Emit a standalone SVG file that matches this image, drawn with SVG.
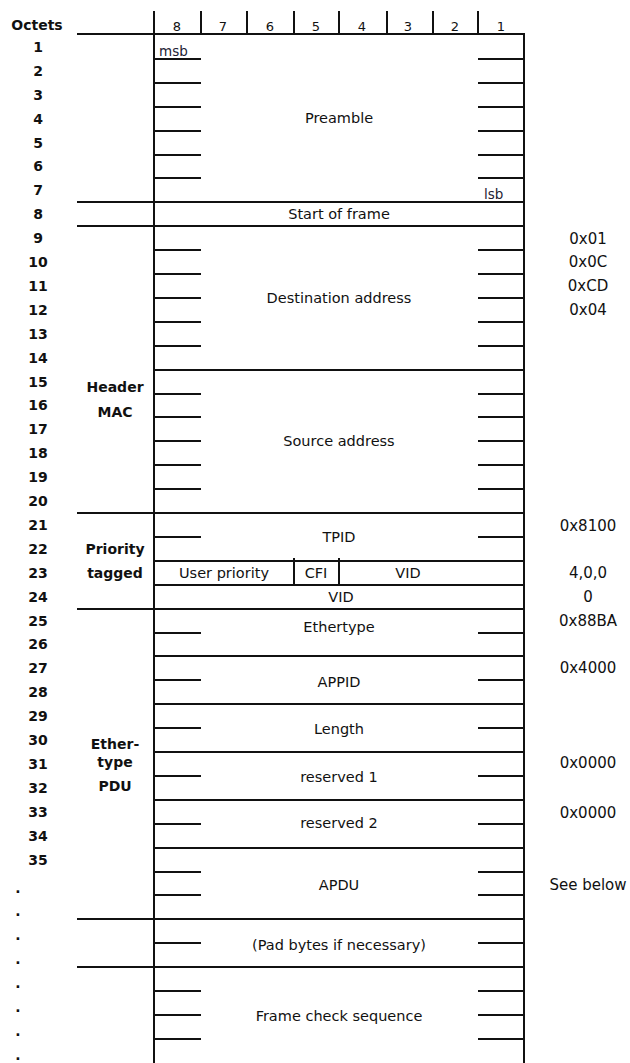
<svg xmlns="http://www.w3.org/2000/svg" width="630" height="1063" viewBox="0 0 630 1063">
<style>
.ln{stroke:#111;stroke-width:2;fill:none}
.tk{stroke:#111;stroke-width:2;fill:none}
.oc{font-family:"DejaVu Sans",Verdana,sans-serif;font-size:14px;font-weight:bold;fill:#111;text-anchor:middle}
.col{font-family:"DejaVu Sans",Verdana,sans-serif;font-size:13px;fill:#111;text-anchor:middle}
.fl{font-family:"DejaVu Sans",Verdana,sans-serif;font-size:14.5px;fill:#111;text-anchor:middle}
.sm{font-family:"DejaVu Sans",Verdana,sans-serif;font-size:13.5px;fill:#223}
.val{font-family:"DejaVu Sans",Verdana,sans-serif;font-size:15px;fill:#111;text-anchor:middle}
</style>
<rect width="630" height="1063" fill="#fff"/>
<g id="connectors">
<path class="ln" d="M154 11V1063M524 33V1063M201 11V34M247 11V34M294 11V34M339 11V34M387 11V34M433 11V34M478 11V34"/>
<path class="ln" d="M77 34H524M77 202H524M77 226H524M77 513H524M77 609H524M77 919H524M77 967H524"/>
<path class="ln" d="M154 370H524M154 561H524M154 585H524M154 656H524M154 704H524M154 752H524M154 800H524M154 848H524M294 558V585M339 558V585"/>
<path class="tk" d="M154 59H201M154 83H201M154 107H201M154 131H201M154 155H201M154 178H201M154 250H201M154 274H201M154 298H201M154 322H201M154 346H201M154 394H201M154 417H201M154 441H201M154 465H201M154 489H201M154 537H201M154 633H201M154 680H201M154 728H201M154 776H201M154 824H201M154 872H201M154 895H201M154 943H201M154 991H201M154 1015H201M154 1039H201"/>
<path class="tk" d="M478 59H524M478 83H524M478 107H524M478 131H524M478 155H524M478 178H524M478 250H524M478 274H524M478 298H524M478 322H524M478 346H524M478 394H524M478 417H524M478 441H524M478 465H524M478 489H524M478 537H524M478 633H524M478 680H524M478 728H524M478 776H524M478 824H524M478 872H524M478 895H524M478 943H524M478 991H524M478 1015H524M478 1039H524"/>
</g>
<g id="bit-columns">
<text class="col" x="177" y="31">8</text><text class="col" x="223" y="31">7</text><text class="col" x="270" y="31">6</text><text class="col" x="316" y="31">5</text><text class="col" x="362" y="31">4</text><text class="col" x="408" y="31">3</text><text class="col" x="455" y="31">2</text><text class="col" x="501" y="31">1</text>
</g>
<g id="octets">
<text class="oc" x="37" y="30">Octets</text>
<text class="oc" x="38" y="52">1</text><text class="oc" x="38" y="76">2</text><text class="oc" x="38" y="100">3</text><text class="oc" x="38" y="124">4</text><text class="oc" x="38" y="148">5</text><text class="oc" x="38" y="171">6</text><text class="oc" x="38" y="195">7</text><text class="oc" x="38" y="219">8</text><text class="oc" x="38" y="243">9</text><text class="oc" x="38" y="267">10</text><text class="oc" x="38" y="291">11</text><text class="oc" x="38" y="315">12</text><text class="oc" x="38" y="339">13</text><text class="oc" x="38" y="363">14</text><text class="oc" x="38" y="387">15</text><text class="oc" x="38" y="410">16</text><text class="oc" x="38" y="434">17</text><text class="oc" x="38" y="458">18</text><text class="oc" x="38" y="482">19</text><text class="oc" x="38" y="506">20</text><text class="oc" x="38" y="530">21</text><text class="oc" x="38" y="554">22</text><text class="oc" x="38" y="578">23</text><text class="oc" x="38" y="602">24</text><text class="oc" x="38" y="626">25</text><text class="oc" x="38" y="649">26</text><text class="oc" x="38" y="673">27</text><text class="oc" x="38" y="697">28</text><text class="oc" x="38" y="721">29</text><text class="oc" x="38" y="745">30</text><text class="oc" x="38" y="769">31</text><text class="oc" x="38" y="793">32</text><text class="oc" x="38" y="817">33</text><text class="oc" x="38" y="841">34</text><text class="oc" x="38" y="865">35</text>
<text class="oc" x="18" y="893">.</text><text class="oc" x="18" y="916">.</text><text class="oc" x="18" y="940">.</text><text class="oc" x="18" y="964">.</text><text class="oc" x="18" y="988">.</text><text class="oc" x="18" y="1012">.</text><text class="oc" x="18" y="1036">.</text><text class="oc" x="18" y="1060">.</text>
</g>
<g id="groups">
<text class="oc" x="115" y="392">Header</text><text class="oc" x="115" y="417">MAC</text>
<text class="oc" x="115" y="554">Priority</text><text class="oc" x="115" y="578">tagged</text>
<text class="oc" x="115" y="749">Ether-</text><text class="oc" x="115" y="767">type</text><text class="oc" x="115" y="791">PDU</text>
</g>
<g id="preamble"><text class="sm" x="159" y="56">msb</text><text class="fl" x="339" y="123">Preamble</text><text class="sm" x="484" y="199">lsb</text></g>
<g id="sof"><text class="fl" x="339" y="219">Start of frame</text></g>
<g id="dest"><text class="fl" x="339" y="303">Destination address</text></g>
<g id="src"><text class="fl" x="339" y="446">Source address</text></g>
<g id="tpid"><text class="fl" x="339" y="542">TPID</text></g>
<g id="tci"><text class="fl" x="224" y="578">User priority</text><text class="fl" x="316" y="578">CFI</text><text class="fl" x="408" y="578">VID</text><text class="fl" x="341" y="602">VID</text></g>
<g id="ethertype"><text class="fl" x="339" y="632">Ethertype</text></g>
<g id="appid"><text class="fl" x="339" y="687">APPID</text></g>
<g id="length"><text class="fl" x="339" y="734">Length</text></g>
<g id="res1"><text class="fl" x="339" y="782">reserved 1</text></g>
<g id="res2"><text class="fl" x="339" y="828">reserved 2</text></g>
<g id="apdu"><text class="fl" x="339" y="890">APDU</text></g>
<g id="pad"><text class="fl" x="339" y="950">(Pad bytes if necessary)</text></g>
<g id="fcs"><text class="fl" x="339" y="1021">Frame check sequence</text></g>
<g id="values">
<text class="val" x="588" y="244">0x01</text><text class="val" x="588" y="267">0x0C</text><text class="val" x="588" y="291">0xCD</text><text class="val" x="588" y="315">0x04</text>
<text class="val" x="588" y="531">0x8100</text><text class="val" x="588" y="578">4,0,0</text><text class="val" x="588" y="602">0</text><text class="val" x="588" y="626">0x88BA</text><text class="val" x="588" y="673">0x4000</text><text class="val" x="588" y="768">0x0000</text><text class="val" x="588" y="818">0x0000</text><text class="val" x="588" y="890">See below</text>
</g>
</svg>
